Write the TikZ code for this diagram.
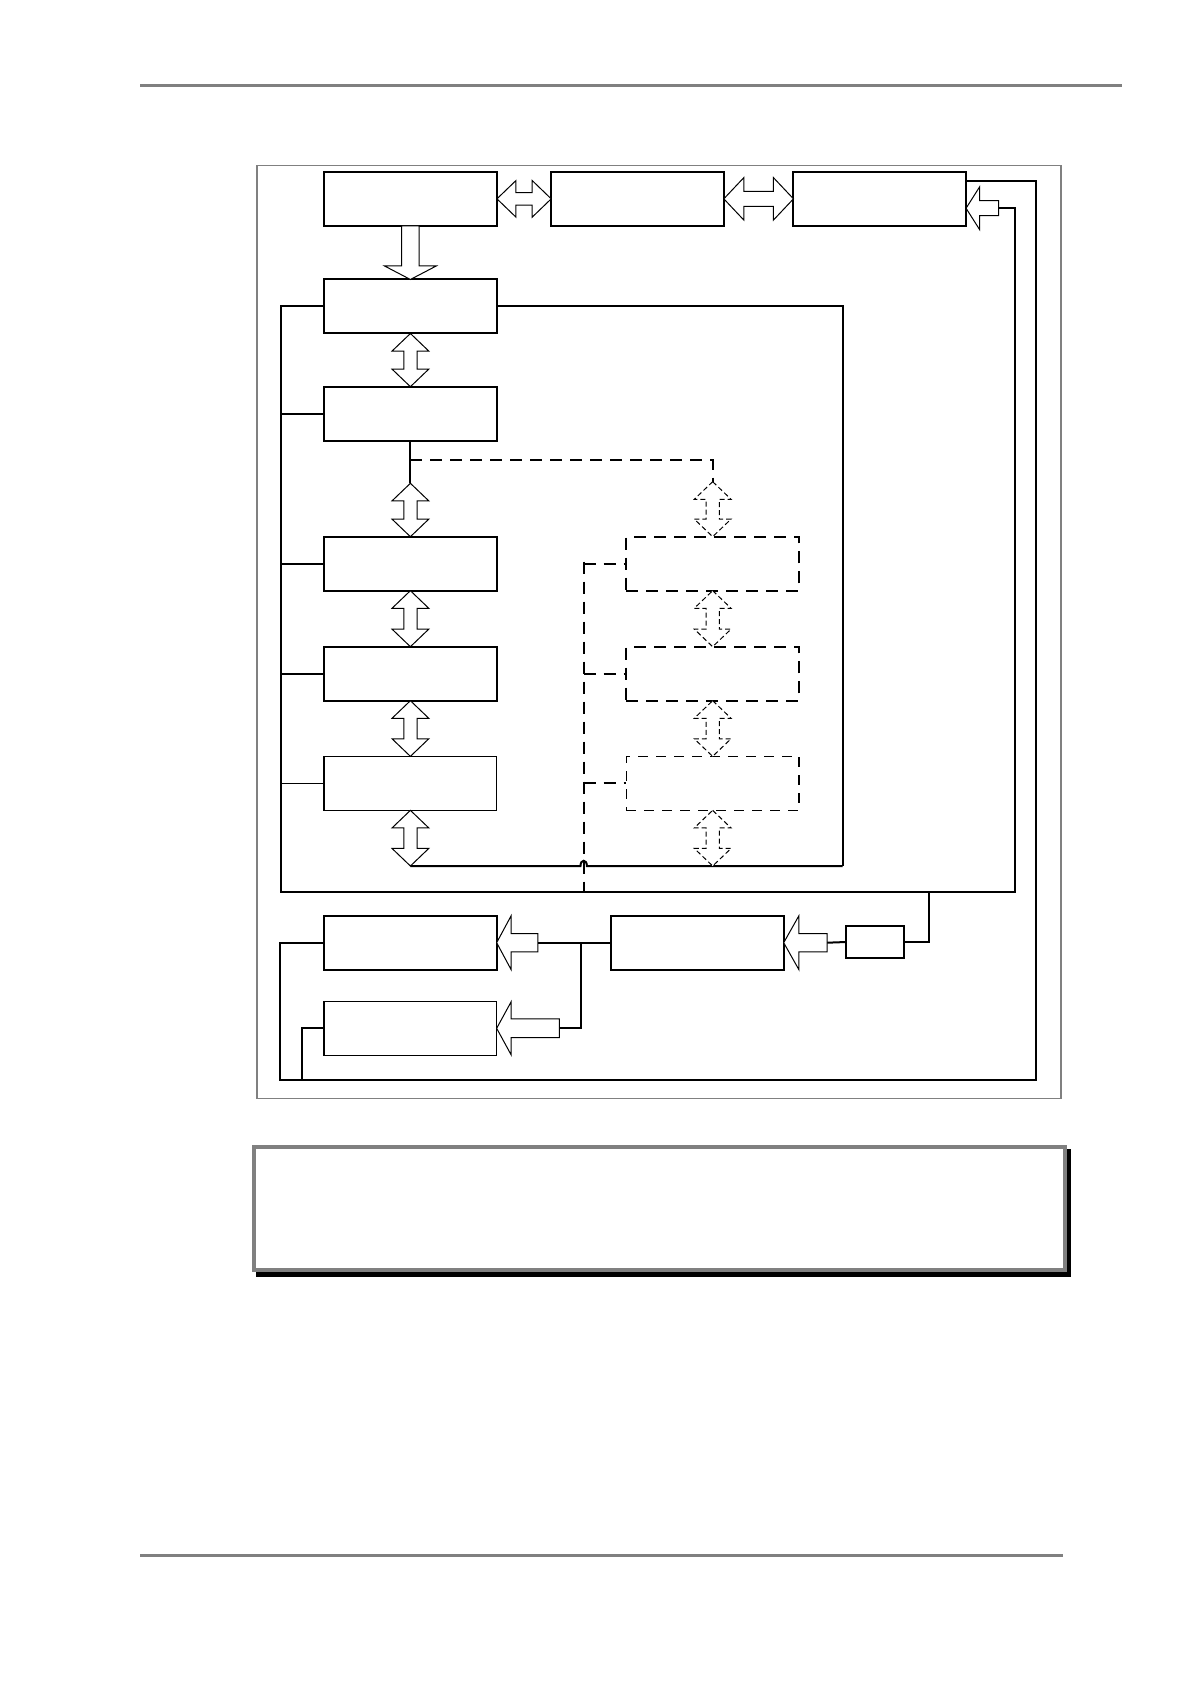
\documentclass[tikz,border=0pt]{standalone}
\usetikzlibrary{calc}

% block arrows: tail/tip coordinates, half head width, half shaft width, head length
\newcommand{\blkvbi}[3][]{%
  \draw[blockarrow,#1] let \p1=(#2), \p2=(#3) in
    (\x1,\y1) -- (\x1+9.2pt,\y1-8.8pt) -- (\x1+3.3pt,\y1-8.8pt)
    -- (\x1+3.3pt,\y2+8.8pt) -- (\x1+9.2pt,\y2+8.8pt) -- (\x1,\y2)
    -- (\x1-9.2pt,\y2+8.8pt) -- (\x1-3.3pt,\y2+8.8pt)
    -- (\x1-3.3pt,\y1-8.8pt) -- (\x1-9.2pt,\y1-8.8pt) -- cycle;}
\newcommand{\blkhbi}[5]{%
  \draw[blockarrow] let \p1=(#1), \p2=(#2) in
    (\x1,\y1) -- (\x1+#5,\y1+#3) -- (\x1+#5,\y1+#4) -- (\x2-#5,\y1+#4)
    -- (\x2-#5,\y1+#3) -- (\x2,\y1) -- (\x2-#5,\y1-#3) -- (\x2-#5,\y1-#4)
    -- (\x1+#5,\y1-#4) -- (\x1+#5,\y1-#3) -- cycle;}
\newcommand{\blkleft}[5]{%
  \draw[blockarrow] let \p1=(#1), \p2=(#2) in
    (\x2,\y2) -- (\x2+#5,\y2+#3) -- (\x2+#5,\y2+#4) -- (\x1,\y2+#4)
    -- (\x1,\y2-#4) -- (\x2+#5,\y2-#4) -- (\x2+#5,\y2-#3) -- cycle;}
\newcommand{\blkdown}[5]{%
  \draw[blockarrow] let \p1=(#1), \p2=(#2) in
    (\x2,\y2) -- (\x2+#3,\y2+#5) -- (\x2+#4,\y2+#5) -- (\x2+#4,\y1)
    -- (\x2-#4,\y1) -- (\x2-#4,\y2+#5) -- (\x2-#3,\y2+#5) -- cycle;}

\tikzset{
  blk/.style={draw, line width=1pt, minimum width=86.3pt, minimum height=27pt,
    inner sep=0pt, outer sep=0pt},
  dblk/.style={blk, dash pattern=on 6pt off 4pt},
  blockarrow/.style={draw, fill=white, line width=0.5pt},
  wire/.style={line width=1pt},
  dwire/.style={line width=1pt, dash pattern=on 6pt off 4pt},
}

\begin{document}
\begin{tikzpicture}[x=0.5pt,y=-0.5pt]
  \useasboundingbox (0,0) rectangle (1191,1684);
  % page rules and frame
  \draw[gray, line width=1.5pt] (140,85.7) -- (1122,85.7);
  \draw[gray, line width=1.5pt] (140,1555.3) -- (1063,1555.3);
  \draw[gray, line width=0.7pt] (257,165.7) rectangle (1061,1098.3);

  % top row
  \node[blk] (t1) at (410.65,198.85) {};
  \node[blk] (t2) at (637.5,198.85) {};
  \node[blk] (t3) at (879.75,198.85) {};
  % main column
  \node[blk] (m0) at (410.4,306.5) {};
  \node[blk] (m1) at (410.4,413.7) {};
  \node[blk] (m2) at (410.4,563.7) {};
  \node[blk] (m3) at (410.4,673.7) {};
  \node[blk, line width=0.7pt] (m4) at (410.4,783.35) {};
  % optional column
  \node[dblk] (x1) at (712.65,563.7) {};
  \node[dblk] (x2) at (712.65,673.7) {};
  \node[dblk, line width=0.7pt, dash pattern=on 5pt off 4pt] (x3) at (712.65,783.35) {};
  % bottom row
  \node[blk] (b1) at (410.35,942.7) {};
  \node[blk, line width=0.7pt] (b2) at (410.35,1028.3) {};
  \node[blk] (b3) at (697.4,942.7) {};
  \node[blk, minimum width=28.7pt, minimum height=16.3pt] (b4) at (874.9,942) {};

  \coordinate (ef) at (410.4,483.3);
  \coordinate (ei) at (712.65,481.7);
  \coordinate (hb) at (410.4,866);
  \coordinate (kb) at (712.65,866);
  \coordinate (rb) at (842.7,866);
  \coordinate (lb) at (281,891.7);
  \coordinate (dv) at (583.7,891.7);
  \coordinate (ct) at (998.5,208.3);
  \coordinate (ctip) at ([yshift=-4.7pt]t3.east);
  \coordinate (nt) at (827.2,942.7);
  \coordinate (lt) at (537.8,942.7);
  \coordinate (mt) at (559.4,1028.3);

  % buses
  \draw[wire] (m0.west) -| (lb) -- (1015,891.7) |- (ct);
  \foreach \n in {m1,m2,m3}
    \draw[wire] (\n.west) -- (\n.west -| lb);
  \draw[line width=0.6pt] (m4.west) -- (m4.west -| lb);
  \draw[wire] (m0.east) -| (rb);
  \draw[wire] (hb) -- (580.5,866) .. controls (580.5,859) and (586.9,859) .. (586.9,866) -- (rb);
  \draw[wire] (m1.south) -- (ef);
  \draw[dwire] ($(m1.south)!0.45!(ef)$) -| (ei);
  \draw[dwire] (x1.west -| dv) ++(0,-2) -- (dv);
  \foreach \n in {x1,x2,x3}
    \draw[dwire] (\n.west -| dv) -- (\n.west);

  % lower loop
  \draw[wire] (929,891.7) |- (b4.east);
  \draw[wire] (b4.west) -- (nt);
  \draw[wire] (b3.west) -- (lt);
  \draw[wire] (581,942.7) |- (mt);
  \draw[wire] ([yshift=-4.5pt]t3.north east) -| (1036.4,1080) -- (280.3,1080) |- (b1.west);
  \draw[wire] (b2.west) -| (302,1080);

  % block arrows
  \blkdown{t1.south}{m0.north}{13pt}{4.35pt}{6.8pt}
  \blkhbi{t1.east}{t2.west}{9.15pt}{3.1pt}{9.5pt}
  \blkhbi{t2.east}{t3.west}{10.6pt}{3.75pt}{10pt}
  \blkleft{ct}{ctip}{10.65pt}{3.75pt}{6.75pt}
  \blkvbi{m0.south}{m1.north}
  \blkvbi{ef}{m2.north}
  \blkvbi{m2.south}{m3.north}
  \blkvbi{m3.south}{m4.north}
  \blkvbi{m4.south}{hb}
  \blkvbi[dash pattern=on 2.5pt off 1.5pt]{ei}{x1.north}
  \blkvbi[dash pattern=on 2.5pt off 1.5pt]{x1.south}{x2.north}
  \blkvbi[dash pattern=on 2.5pt off 1.5pt]{x2.south}{x3.north}
  \blkvbi[dash pattern=on 2.5pt off 1.5pt]{x3.south}{kb}
  \blkleft{nt}{b3.east}{13.5pt}{4.6pt}{7.6pt}
  \blkleft{lt}{b1.east}{13.5pt}{4.6pt}{7.25pt}
  \blkleft{mt}{b2.east}{13.3pt}{4.7pt}{7.25pt}

  % caption frame
  \fill (256,1149) rectangle (1071,1277);
  \draw[gray, line width=2pt, fill=white] (254,1147) rectangle (1065,1270);
\end{tikzpicture}
\end{document}
